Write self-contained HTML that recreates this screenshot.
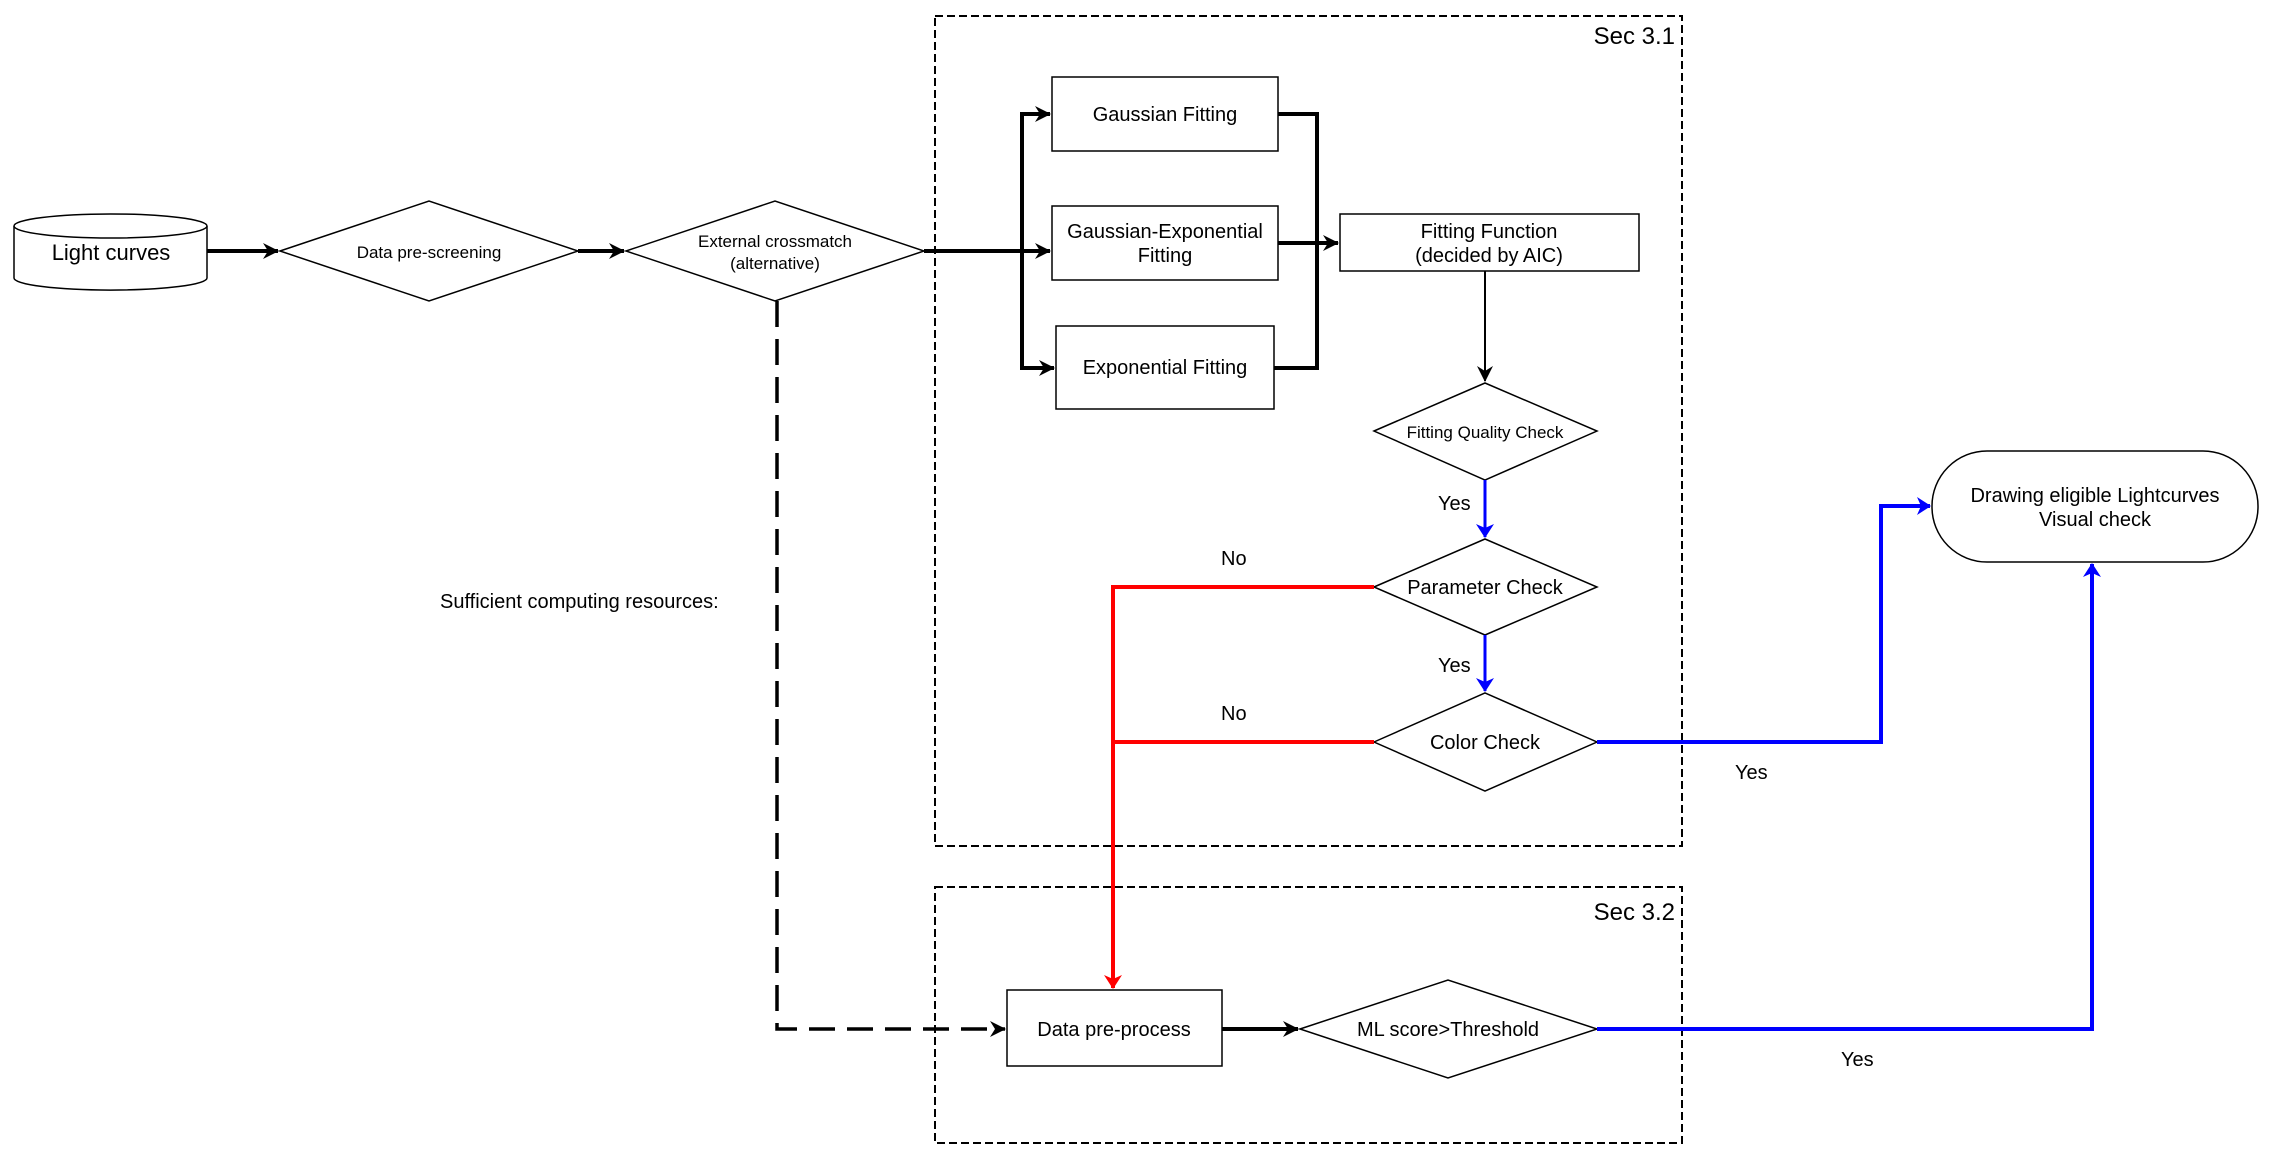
<!DOCTYPE html>
<html><head><style>html,body{margin:0;padding:0;background:#fff}svg{display:block}text{font-family:"Liberation Sans",sans-serif;font-size:20px;fill:#000}</style></head><body>
<svg width="2272" height="1159" viewBox="0 0 2272 1159" xmlns="http://www.w3.org/2000/svg">
<defs>
<marker id="ak" markerWidth="16" markerHeight="16" refX="15" refY="8" orient="auto" markerUnits="userSpaceOnUse"><path d="M0,0 L16,8 L0,16 L5,8z" fill="#000"/></marker>
<marker id="ab" markerWidth="14" markerHeight="18" refX="13" refY="9" orient="auto" markerUnits="userSpaceOnUse"><path d="M0,0 L14,9 L0,18 L4,9z" fill="#00f"/></marker>
<marker id="ar" markerWidth="14" markerHeight="18" refX="13" refY="9" orient="auto" markerUnits="userSpaceOnUse"><path d="M0,0 L14,9 L0,18 L4,9z" fill="#f00"/></marker>
</defs>
<g fill="none" stroke="#000" stroke-width="2" stroke-dasharray="8,4">
<rect x="935" y="16" width="747" height="830"/>
<rect x="935" y="887" width="747" height="256"/>
</g>
<text x="1675" y="44" text-anchor="end" style="font-size:24px">Sec 3.1</text>
<text x="1675" y="920" text-anchor="end" style="font-size:24px">Sec 3.2</text>
<g stroke="#000" stroke-width="1.5" fill="#fff">
<path d="M14,226 L14,278 A96,12 0 0 0 207,278 L207,226"/>
<ellipse cx="110.5" cy="226" rx="96.5" ry="12"/>
<polygon points="280,251 429,201 578,251 429,301"/>
<polygon points="626,251 775,201 924,251 775,301"/>
<rect x="1052" y="77" width="226" height="74"/>
<rect x="1052" y="206" width="226" height="74"/>
<rect x="1056" y="326" width="218" height="83"/>
<rect x="1340" y="214" width="299" height="57"/>
<polygon points="1374,431 1485,383 1597,431 1485,480"/>
<polygon points="1374,587 1485,539 1597,587 1485,635"/>
<polygon points="1374,742 1485,693 1597,742 1485,791"/>
<rect x="1932" y="451" width="326" height="111" rx="55"/>
<rect x="1007" y="990" width="215" height="76"/>
<polygon points="1300,1029 1448,980 1597,1029 1448,1078"/>
</g>
<g text-anchor="middle">
<text x="111" y="260" style="font-size:22px">Light curves</text>
<text x="429" y="258" style="font-size:17px">Data pre-screening</text>
<text x="775" y="247" style="font-size:17px">External crossmatch</text>
<text x="775" y="269" style="font-size:17px">(alternative)</text>
<text x="1165" y="121">Gaussian Fitting</text>
<text x="1165" y="238">Gaussian-Exponential</text>
<text x="1165" y="262">Fitting</text>
<text x="1165" y="374">Exponential Fitting</text>
<text x="1489" y="238">Fitting Function</text>
<text x="1489" y="262">(decided by AIC)</text>
<text x="1485" y="438" style="font-size:17px">Fitting Quality Check</text>
<text x="1485" y="594">Parameter Check</text>
<text x="1485" y="749">Color Check</text>
<text x="2095" y="502">Drawing eligible Lightcurves</text>
<text x="2095" y="526">Visual check</text>
<text x="1114" y="1036">Data pre-process</text>
<text x="1448" y="1036">ML score&gt;Threshold</text>
</g>
<text x="440" y="608">Sufficient computing resources:</text>
<text x="1221" y="565">No</text>
<text x="1221" y="720">No</text>
<text x="1438" y="510">Yes</text>
<text x="1438" y="672">Yes</text>
<text x="1735" y="779">Yes</text>
<text x="1841" y="1066">Yes</text>
<g fill="none" stroke="#000" stroke-width="4">
<path d="M207,251 L278,251" marker-end="url(#ak)"/>
<path d="M578,251 L624,251" marker-end="url(#ak)"/>
<path d="M924,251 L1050,251"/>
<path d="M1022,251 L1022,114 L1050,114" marker-end="url(#ak)"/>
<path d="M1022,251 L1050,251" marker-end="url(#ak)"/>
<path d="M1022,251 L1022,368 L1054,368" marker-end="url(#ak)"/>
<path d="M1278,114 L1317,114 L1317,368 L1274,368"/>
<path d="M1278,243 L1338,243" marker-end="url(#ak)"/>
<path d="M1222,1029 L1298,1029" marker-end="url(#ak)"/>
<path d="M777,301 L777,1029 L1005,1029" stroke-dasharray="26,12" stroke-width="3.5" marker-end="url(#ak)"/>
</g>
<path d="M1485,271 L1485,381" stroke="#000" stroke-width="2" fill="none" marker-end="url(#ak)"/>
<g fill="none" stroke="#00f" stroke-width="3">
<path d="M1485,480 L1485,537" marker-end="url(#ab)"/>
<path d="M1485,635 L1485,691" marker-end="url(#ab)"/>
<path d="M1597,742 L1881,742 L1881,506 L1930,506" stroke-width="4" marker-end="url(#ab)"/>
<path d="M1597,1029 L2092,1029 L2092,564" stroke-width="4" marker-end="url(#ab)"/>
</g>
<g fill="none" stroke="#f00" stroke-width="4">
<path d="M1374,587 L1113,587 L1113,988" marker-end="url(#ar)"/>
<path d="M1374,742 L1113,742"/>
</g>
</svg>
</body></html>
